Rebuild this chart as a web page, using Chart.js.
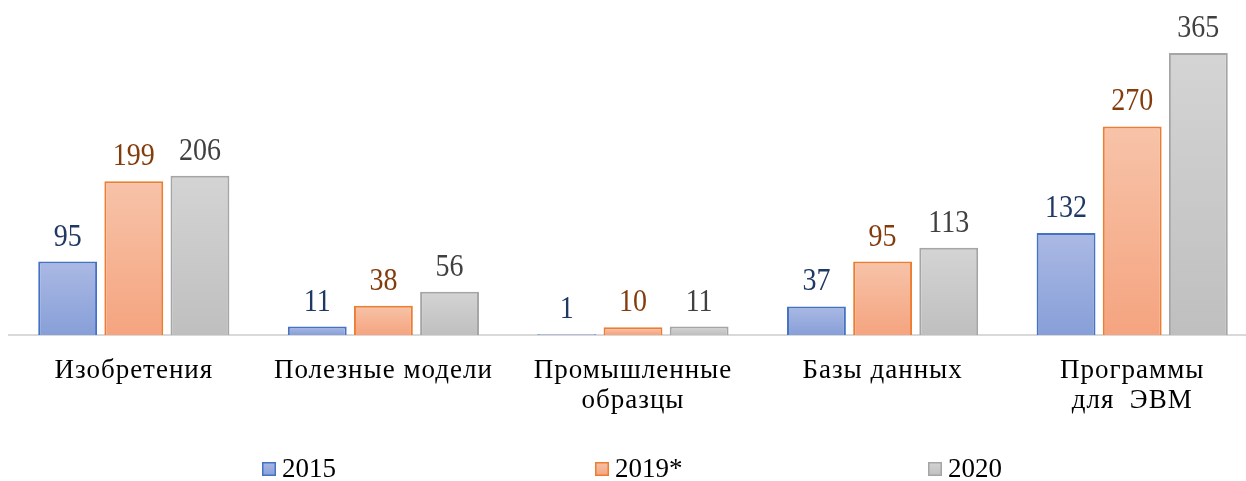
<!DOCTYPE html>
<html>
<head>
<meta charset="utf-8">
<script src="https://cdn.jsdelivr.net/npm/chart.js@4"></script>
<style>
  html, body { margin: 0; padding: 0; background: #fff; overflow: hidden; }
  #wrap { width: 1246px; height: 481px; overflow: hidden; }
</style>
</head>
<body>
<div id="wrap"><canvas id="c" width="1257" height="481"></canvas></div>
<script>
// ====== Данные ======
const categories = ["Изобретения", "Полезные модели", ["Промышленные", "образцы"], "Базы данных", ["Программы", "для  ЭВМ"]];
const years = ["2015", "2019*", "2020"];
const v2015 = [95, 11, 1, 37, 132];
const v2019 = [199, 38, 10, 95, 270];
const v2020 = [206, 56, 11, 113, 365];

// цвета: [верх градиента, низ градиента, рамка, подпись]
const styles = [
  ["#abb9e4", "#879fd8", "#4472c4", "#1f3864"],
  ["#f7c3a9", "#f5a47f", "#ed7d31", "#843c0c"],
  ["#d4d4d4", "#bfbfbf", "#a5a5a5", "#404040"]
];

const FONT = "'Liberation Serif', 'Times New Roman', serif";

// градиент по высоте каждого столбика
function barFill(i) {
  return ctx => {
    const chart = ctx.chart;
    const s = chart.scales && chart.scales.y;
    if (!chart.chartArea || !s || ctx.raw == null) return styles[i][1];
    const top = s.getPixelForValue(ctx.raw);
    const bottom = s.getPixelForValue(0);
    if (!(bottom > top)) return styles[i][1];
    const g = chart.ctx.createLinearGradient(0, top, 0, bottom);
    g.addColorStop(0, styles[i][0]);
    g.addColorStop(1, styles[i][1]);
    return g;
  };
}

// подписи категорий чуть шире обычного
const tickSpacing = {
  id: "tickSpacing",
  beforeDraw(chart) { chart.ctx.letterSpacing = "1px"; },
  beforeDatasetsDraw(chart) { chart.ctx.letterSpacing = "0px"; }
};

// подписи значений над столбиками
const valueLabels = {
  id: "valueLabels",
  afterDatasetsDraw(chart) {
    const c = chart.ctx;
    chart.data.datasets.forEach((ds, i) => {
      chart.getDatasetMeta(i).data.forEach((bar, j) => {
        c.save();
        c.font = "28px " + FONT;
        c.textAlign = "center";
        c.textBaseline = "alphabetic";
        c.fillStyle = styles[i][3];
        c.translate(bar.x, bar.y - 16);
        c.scale(1, 1.09);
        c.fillText(String(ds.data[j]), 0, 0);
        c.restore();
      });
    });
  }
};

// легенда снизу, равные ячейки как в Excel
const bottomLegend = {
  id: "bottomLegend",
  afterDraw(chart) {
    const c = chart.ctx;
    const cx = (chart.chartArea.left + chart.chartArea.right) / 2;
    c.save();
    c.font = "27px " + FONT;
    c.textBaseline = "alphabetic";
    c.textAlign = "left";
    chart.data.datasets.forEach((ds, i) => {
      const x = cx - 371 + 333 * i;
      const y = 462;
      const g = c.createLinearGradient(0, y, 0, y + 14);
      g.addColorStop(0, styles[i][0]);
      g.addColorStop(1, styles[i][1]);
      c.fillStyle = g;
      c.fillRect(x, y, 14, 14);
      c.strokeStyle = styles[i][2];
      c.lineWidth = 1.5;
      c.strokeRect(x + 0.75, y + 0.75, 12.5, 12.5);
      c.fillStyle = "#000";
      c.fillText(ds.label, x + 20, 477);
    });
    c.restore();
  }
};

const series = [v2015, v2019, v2020];

new Chart(document.getElementById("c"), {
  type: "bar",
  data: {
    labels: categories,
    datasets: series.map((d, i) => ({
      label: years[i],
      data: d,
      backgroundColor: barFill(i),
      borderColor: styles[i][2],
      borderWidth: 2,
      borderSkipped: "bottom",
      categoryPercentage: 0.795,
      barPercentage: 0.89
    }))
  },
  options: {
    responsive: false,
    animation: false,
    layout: { padding: { left: 9, right: 0, top: 26, bottom: 0 } },
    plugins: { legend: { display: false }, tooltip: { enabled: false } },
    scales: {
      x: {
        grid: { display: false, drawTicks: false },
        border: { display: true, color: "#d9d9d9", width: 2 },
        ticks: {
          color: "#000",
          padding: 21,
          maxRotation: 0,
          autoSkip: false,
          font: { family: FONT, size: 27, lineHeight: 1.12 }
        },
        afterFit(scale) { scale.height = 146; }
      },
      y: {
        display: false,
        min: 0,
        max: 400
      }
    }
  },
  plugins: [tickSpacing, valueLabels, bottomLegend]
});
</script>
</body>
</html>
